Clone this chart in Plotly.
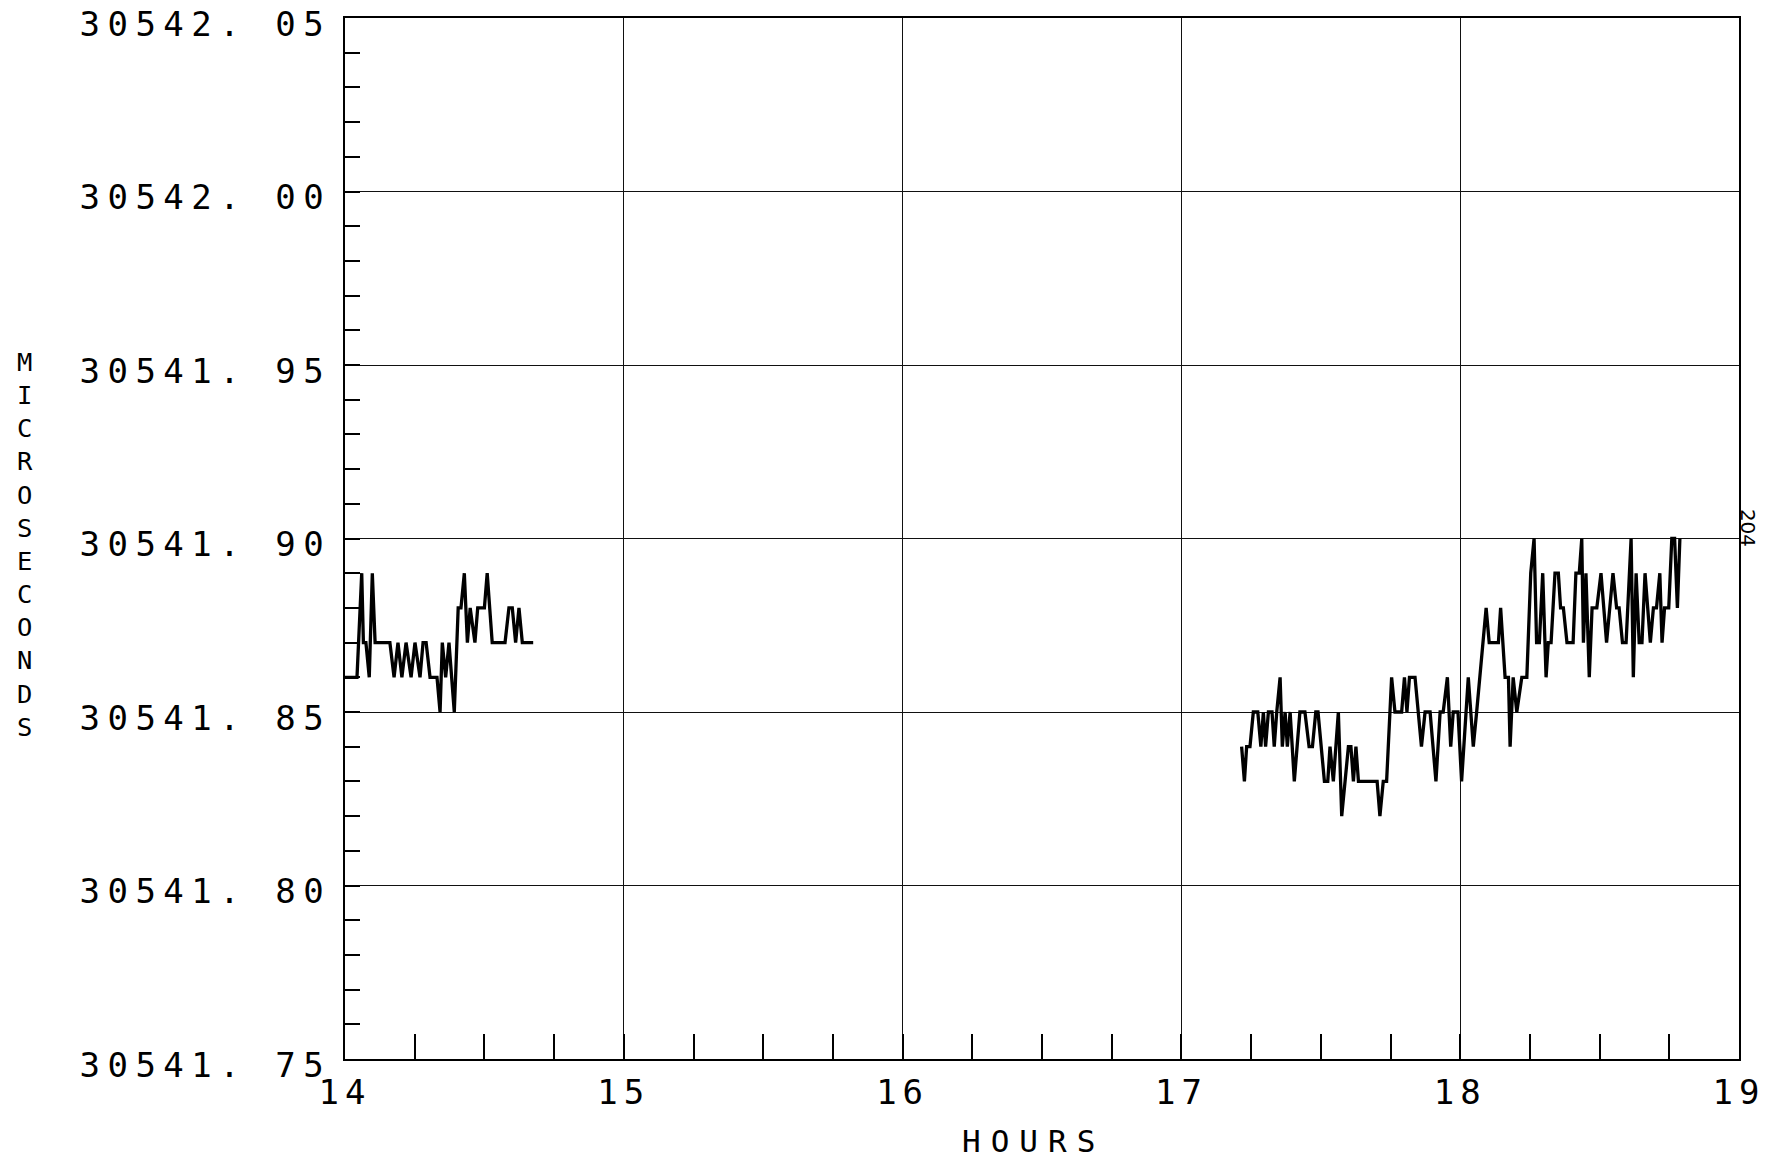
import plotly.graph_objects as go

# ---- data (hours, microseconds) ----
hours_a = [14.000, 14.043, 14.060, 14.066, 14.075, 14.087, 14.098, 14.108, 14.161, 14.176,
           14.190, 14.204, 14.219, 14.237, 14.251, 14.269, 14.280, 14.291, 14.305, 14.330,
           14.341, 14.349, 14.361, 14.373, 14.392, 14.406, 14.416, 14.428, 14.439, 14.449,
           14.466, 14.476, 14.500, 14.510, 14.528, 14.574, 14.588, 14.600, 14.612, 14.624,
           14.636, 14.675]
usec_a = [30541.86, 30541.86, 30541.89, 30541.87, 30541.87, 30541.86, 30541.89, 30541.87, 30541.87, 30541.86,
          30541.87, 30541.86, 30541.87, 30541.86, 30541.87, 30541.86, 30541.87, 30541.87, 30541.86, 30541.86,
          30541.85, 30541.87, 30541.86, 30541.87, 30541.85, 30541.88, 30541.88, 30541.89, 30541.87, 30541.88,
          30541.87, 30541.88, 30541.88, 30541.89, 30541.87, 30541.87, 30541.88, 30541.88, 30541.87, 30541.88,
          30541.87, 30541.87]

hours_b = [17.216, 17.226, 17.234, 17.246, 17.258, 17.274, 17.285, 17.294, 17.302, 17.312,
           17.325, 17.333, 17.342, 17.354, 17.362, 17.372, 17.380, 17.390, 17.405, 17.425,
           17.443, 17.458, 17.470, 17.482, 17.490, 17.513, 17.525, 17.533, 17.545, 17.563,
           17.575, 17.599, 17.608, 17.617, 17.626, 17.635, 17.702, 17.712, 17.724, 17.736,
           17.754, 17.766, 17.790, 17.800, 17.809, 17.818, 17.838, 17.861, 17.874, 17.892,
           17.913, 17.928, 17.939, 17.954, 17.966, 17.975, 17.992, 18.005, 18.029, 18.047,
           18.059, 18.093, 18.104, 18.137, 18.145, 18.161, 18.173, 18.179, 18.190, 18.203,
           18.221, 18.239, 18.253, 18.265, 18.274, 18.284, 18.296, 18.308, 18.316, 18.326,
           18.340, 18.352, 18.360, 18.370, 18.383, 18.405, 18.415, 18.427, 18.436, 18.442,
           18.451, 18.463, 18.473, 18.490, 18.505, 18.525, 18.548, 18.561, 18.570, 18.582,
           18.595, 18.613, 18.621, 18.631, 18.642, 18.652, 18.663, 18.682, 18.693, 18.704,
           18.716, 18.724, 18.733, 18.748, 18.759, 18.769, 18.779, 18.788]
usec_b = [30541.84, 30541.83, 30541.84, 30541.84, 30541.85, 30541.85, 30541.84, 30541.85, 30541.84, 30541.85,
          30541.85, 30541.84, 30541.85, 30541.86, 30541.84, 30541.85, 30541.84, 30541.85, 30541.83, 30541.85,
          30541.85, 30541.84, 30541.84, 30541.85, 30541.85, 30541.83, 30541.83, 30541.84, 30541.83, 30541.85,
          30541.82, 30541.84, 30541.84, 30541.83, 30541.84, 30541.83, 30541.83, 30541.82, 30541.83, 30541.83,
          30541.86, 30541.85, 30541.85, 30541.86, 30541.85, 30541.86, 30541.86, 30541.84, 30541.85, 30541.85,
          30541.83, 30541.85, 30541.85, 30541.86, 30541.84, 30541.85, 30541.85, 30541.83, 30541.86, 30541.84,
          30541.85, 30541.88, 30541.87, 30541.87, 30541.88, 30541.86, 30541.86, 30541.84, 30541.86, 30541.85,
          30541.86, 30541.86, 30541.89, 30541.90, 30541.87, 30541.87, 30541.89, 30541.86, 30541.87, 30541.87,
          30541.89, 30541.89, 30541.88, 30541.88, 30541.87, 30541.87, 30541.89, 30541.89, 30541.90, 30541.87,
          30541.89, 30541.86, 30541.88, 30541.88, 30541.89, 30541.87, 30541.89, 30541.88, 30541.88, 30541.87,
          30541.87, 30541.90, 30541.86, 30541.89, 30541.87, 30541.87, 30541.89, 30541.87, 30541.88, 30541.88,
          30541.89, 30541.87, 30541.88, 30541.88, 30541.90, 30541.90, 30541.88, 30541.90]

x_tickvals = [14, 15, 16, 17, 18, 19]
x_ticktext = ["14", "15", "16", "17", "18", "19"]
y_tickvals = [30541.75, 30541.80, 30541.85, 30541.90, 30541.95, 30542.00, 30542.05]
y_ticktext = ["30541. 75", "30541. 80", "30541. 85", "30541. 90", "30541. 95", "30542. 00", "30542. 05"]

FONT = "DejaVu Sans Mono"


def spaced(s, px):
    return '<span style="letter-spacing:%spx">%s</span>' % (px, s)


fig = go.Figure()
for hx, uy in ((hours_a, usec_a), (hours_b, usec_b)):
    fig.add_trace(go.Scatter(x=hx, y=uy, mode="lines",
                             line=dict(color="black", width=3.3), showlegend=False,
                             hoverinfo="skip"))

fig.update_layout(
    width=1772, height=1152,
    margin=dict(l=337, r=41, t=10, b=101),
    paper_bgcolor="white", plot_bgcolor="white",
    font=dict(family=FONT, color="black"),
)

fig.update_xaxes(
    range=[14, 19], tickmode="array", tickvals=x_tickvals,
    ticktext=[spaced(t, 6) for t in x_ticktext],
    ticks="inside", ticklen=25, tickwidth=1.5, tickcolor="black",
    showline=True, linecolor="black", linewidth=2, mirror=True,
    showgrid=True, gridcolor="#111", gridwidth=1.4, zeroline=False,
    tickfont=dict(family=FONT, size=34, color="black"),
    ticklabelstandoff=2, ticklabeloverflow="allow", automargin=False,
    minor=dict(tickmode="linear", tick0=14, dtick=0.25, ticks="inside", ticklen=25,
               tickwidth=1.5, tickcolor="black", showgrid=False),
)
fig.update_yaxes(
    range=[30541.75, 30542.05], tickmode="array", tickvals=y_tickvals,
    ticktext=[spaced(t, 7.5) for t in y_ticktext],
    ticks="inside", ticklen=15, tickwidth=1.5, tickcolor="black",
    showline=True, linecolor="black", linewidth=2, mirror=True,
    showgrid=True, gridcolor="#111", gridwidth=1.4, zeroline=False,
    tickfont=dict(family=FONT, size=34, color="black"),
    ticklabelstandoff=5, ticklabelshift=6, ticklabeloverflow="allow", automargin=False,
    minor=dict(tickmode="linear", tick0=30541.75, dtick=0.01, ticks="inside", ticklen=15,
               tickwidth=1.5, tickcolor="black", showgrid=False),
)

fig.add_annotation(text=spaced("HOURS", 10), xref="paper", yref="paper", x=0.494, y=-0.079,
                   xanchor="center", yanchor="middle", showarrow=False,
                   font=dict(family=FONT, size=31, color="black"))
fig.add_annotation(text="<br>".join(list("MICROSECONDS")), xref="paper", yref="paper",
                   x=-0.2296, y=0.494, xanchor="center", yanchor="middle", showarrow=False,
                   font=dict(family=FONT, size=25.5, color="black"))
fig.add_annotation(text="204", xref="paper", yref="paper", x=1.0066, y=0.51,
                   xanchor="center", yanchor="middle", showarrow=False, textangle=90,
                   font=dict(family="DejaVu Sans", size=20, color="black"))

fig.write_html("out.html")
